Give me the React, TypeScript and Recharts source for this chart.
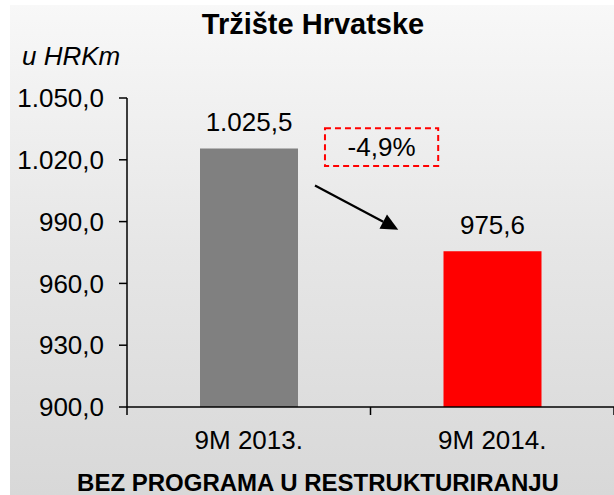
import React from 'react';
import {
  BarChart,
  Bar,
  XAxis,
  YAxis,
  LabelList,
  ReferenceArea,
  ReferenceLine,
  Cell,
} from 'recharts';

// ---- data ----
const categories = ['9M 2013.', '9M 2014.'];
const values = [1025.5, 975.6];
const barColors = ['#808080', '#ff0000'];
const yTicks = [900, 930, 960, 990, 1020, 1050];
const titleText = 'Tržište Hrvatske';
const unitText = 'u HRKm';
const footerText = 'BEZ PROGRAMA U RESTRUKTURIRANJU';

const data = categories.map((c, i) => ({ name: c, value: values[i] }));

const FONT = '"Liberation Sans", Arial, Helvetica, sans-serif';

const fmt = (v: any) => {
  const n = Number(v);
  const [int, dec] = Math.abs(n).toFixed(1).split('.');
  const intF = int.replace(/\B(?=(\d{3})+(?!\d))/g, '.');
  return (n < 0 ? '-' : '') + intF + ',' + dec;
};

const changePct = ((values[1] - values[0]) / values[0]) * 100;
const changeText = changePct.toFixed(1).replace('.', ',') + '%';

// annotation placement (data space of helper numeric x-axis 0..2 and the y axis)
const boxX = [0.813, 1.278];
const boxY = [1017.0, 1035.3];
const arrowFrom = { x: 0.772, y: 1007.5 };
const arrowTo = { x: 1.114, y: 986.1 };

const XTick = (props: any) => {
  const { x, y, payload, index, width, visibleTicksCount } = props;
  let off = payload && typeof payload.offset === 'number' ? payload.offset : 0;
  if (!(off > 0) && width && visibleTicksCount) off = width / visibleTicksCount / 2;
  return (
    <g>
      {off > 0 && (
        <line x1={x + off} x2={x + off} y1={y} y2={y + 8} stroke="#000" strokeWidth={1.5} />
      )}
      {off > 0 && index === 0 && (
        <line x1={x - off} x2={x - off} y1={y} y2={y + 8} stroke="#000" strokeWidth={1.5} />
      )}
      <text x={x} y={y + 41.5} textAnchor="middle" fontSize={26} fill="#000" fontFamily={FONT}>
        {payload.value}
      </text>
    </g>
  );
};

const ArrowShape = (props: any) => {
  const { x1, y1, x2, y2 } = props;
  if ([x1, y1, x2, y2].some((v) => typeof v !== 'number' || isNaN(v))) return null;
  const dx = x2 - x1;
  const dy = y2 - y1;
  const len = Math.sqrt(dx * dx + dy * dy) || 1;
  const ux = dx / len;
  const uy = dy / len;
  const headLen = 17;
  const headHalf = 8;
  const bx = x2 - ux * headLen;
  const by = y2 - uy * headLen;
  const px = -uy;
  const py = ux;
  return (
    <g>
      <line x1={x1} y1={y1} x2={bx} y2={by} stroke="#000" strokeWidth={2.2} />
      <polygon
        points={`${x2},${y2} ${bx + px * headHalf},${by + py * headHalf} ${bx - px * headHalf},${by - py * headHalf}`}
        fill="#000"
      />
    </g>
  );
};

export default function App() {
  return (
    <div
      style={{
        position: 'absolute',
        left: 0,
        top: 0,
        width: 614,
        height: 495,
        background: '#ffffff',
        fontFamily: FONT,
        overflow: 'hidden',
      }}
    >
      <div
        style={{
          position: 'absolute',
          left: 10,
          top: 5,
          right: 0,
          bottom: 0,
          background: 'linear-gradient(to bottom, #f8f8f8 0%, #e6e6e6 50%, #d8d8d8 100%)',
        }}
      />
      <div style={{ position: 'absolute', left: 0, top: 0 }}>
        <BarChart
          width={614}
          height={495}
          data={data}
          margin={{ top: 98, right: 0, bottom: 38, left: 0 }}
        >
          <XAxis
            dataKey="name"
            height={50}
            axisLine={{ stroke: '#000', strokeWidth: 1.5 }}
            tickLine={false}
            tickSize={0}
            tickMargin={0}
            tick={<XTick />}
            interval={0}
          />
          <XAxis
            xAxisId="n"
            type="number"
            dataKey="value"
            domain={[0, 2]}
            allowDataOverflow
            hide
          />
          <YAxis
            width={127}
            domain={[900, 1050]}
            ticks={yTicks}
            interval={0}
            tickFormatter={fmt}
            axisLine={{ stroke: '#000', strokeWidth: 1.5 }}
            tickLine={{ stroke: '#000', strokeWidth: 1.5 }}
            tickSize={8}
            tickMargin={15}
            tick={{ fontSize: 26, fill: '#000', fontFamily: FONT }}
          />
          <Bar dataKey="value" barSize={98} isAnimationActive={false}>
            {data.map((d, i) => (
              <Cell key={d.name} fill={barColors[i]} />
            ))}
            <LabelList
              dataKey="value"
              position="top"
              offset={17}
              formatter={fmt}
              fill="#000"
              fontSize={26}
              fontFamily={FONT}
            />
          </Bar>
          <ReferenceArea
            xAxisId="n"
            x1={boxX[0]}
            x2={boxX[1]}
            y1={boxY[0]}
            y2={boxY[1]}
            ifOverflow="visible"
            fill="none"
            fillOpacity={0}
            stroke="#ff0000"
            strokeWidth={2}
            strokeDasharray="6 4"
            label={{ value: changeText, position: 'center', fontSize: 26, fill: '#000', fontFamily: FONT }}
          />
          <ReferenceLine
            xAxisId="n"
            segment={[arrowFrom, arrowTo]}
            ifOverflow="visible"
            stroke="#000"
            shape={<ArrowShape />}
          />
        </BarChart>
      </div>
      <svg
        width={614}
        height={495}
        style={{ position: 'absolute', left: 0, top: 0, pointerEvents: 'none' }}
      >
        <text x={313} y={34} textAnchor="middle" fontSize={29} fontWeight="bold" fill="#000" fontFamily={FONT}>
          {titleText}
        </text>
        <text x={22} y={65} fontSize={26} fontStyle="italic" fill="#000" fontFamily={FONT}>
          {unitText}
        </text>
        <text x={318} y={491} textAnchor="middle" fontSize={24} fontWeight="bold" fill="#000" fontFamily={FONT}>
          {footerText}
        </text>
      </svg>
    </div>
  );
}
